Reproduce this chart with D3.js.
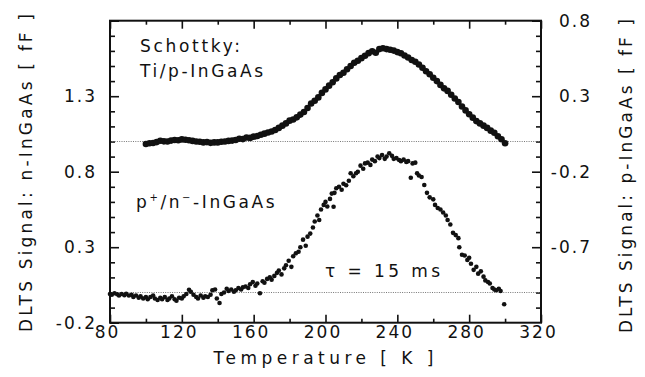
<!DOCTYPE html>
<html>
<head>
<meta charset="utf-8">
<script src="https://cdn.jsdelivr.net/npm/d3@7"></script>
<style>
  body { margin: 0; background: #fff; }
  text { font-family: "DejaVu Sans", sans-serif; fill: #111; }
</style>
</head>
<body>
<div id="wrapper"></div>
<script>
// Schottky Ti/p-InGaAs (right axis)
const schottkyT = [100,102,104,106,108,110,112,114,116,118,120,122,124,126,128,130,132,134,136,138,
  140,142,144,146,148,150,152,154,156,158,160,162,164,166,168,170,172,174,176,178,
  180,182,184,186,188,190,192,194,196,198,200,202,204,206,208,210,212,214,216,218,
  220,222,224,226,228,230,232,234,236,238,240,242,244,246,248,250,252,254,256,258,
  260,262,264,266,268,270,272,274,276,278,280,282,284,286,288,290,292,294,296,298,300];
const schottkyV = [-0.017,-0.012,-0.010,-0.004,0.005,0.001,0.000,0.006,0.010,0.008,0.014,0.012,0.008,0.004,0.000,-0.002,-0.006,-0.004,-0.009,-0.006,
  -0.006,-0.002,0.000,0.004,0.006,0.010,0.018,0.016,0.026,0.024,0.032,0.036,0.045,0.052,0.060,0.066,0.076,0.090,0.105,0.120,
  0.138,0.146,0.160,0.178,0.195,0.222,0.252,0.270,0.292,0.322,0.345,0.370,0.392,0.418,0.440,0.455,0.478,0.500,0.522,0.535,
  0.552,0.568,0.585,0.598,0.588,0.612,0.618,0.612,0.608,0.602,0.592,0.584,0.570,0.556,0.540,0.528,0.510,0.488,0.465,0.445,
  0.422,0.400,0.375,0.352,0.335,0.310,0.285,0.262,0.232,0.206,0.180,0.158,0.135,0.120,0.105,0.090,0.072,0.058,0.035,0.015,-0.012];

// p+/n- InGaAs (left axis)
const pnT = [80,81,82.5,84,85,86.5,88,89,90.5,92,93,94.5,96,97,98.5,100,101,102.5,104,105,
  106.5,108,109,110.5,112,113,114.5,116,117,118.5,120,121,122.5,124,125,126.5,128,129,130.5,132,
  133,134.5,136,137,138.5,139.5,141,142,143.5,145,146,147.5,149,150,151.5,153,154,155.5,157,158,
  159.5,161,162,163.5,165,166,167.5,169,170,171.5,173,174,175.5,177,178,179.5,181,182,183.5,185,
  186,187.5,189,190,191.5,193,194,195.5,196.5,197.5,199,200,201,202.5,203.5,204.5,205,206,207.5,209,
  210,211.5,213,214,215.5,217,218,219.5,221,222,223.5,225,226,227.5,229,230,231.5,233,234,235.5,
  237,238,239.5,241,242,243.5,245,246,247.5,248.5,250,251,252,253.5,255,256.5,258,260,261,262.5,
  264,265.5,267,268,269.5,271,272.5,274,274.5,276,277.5,279,280,281,282.5,284,285,286.5,288,289,
  290.5,291.5,293,294,295,296.5,297.5,299.5];
const pnV = [-0.010,-0.015,-0.005,-0.012,-0.020,-0.010,-0.018,-0.008,-0.020,-0.015,-0.030,-0.020,-0.035,-0.025,-0.040,-0.030,-0.045,-0.030,-0.020,-0.040,
  -0.050,-0.035,-0.045,-0.030,-0.050,-0.040,-0.025,-0.045,-0.055,-0.035,-0.040,-0.025,-0.010,0.018,0.005,-0.015,-0.030,-0.040,-0.020,-0.035,
  -0.025,-0.030,-0.015,0.015,0.020,-0.040,-0.070,-0.010,0.000,0.025,0.010,0.020,0.005,0.015,0.030,0.020,0.035,0.040,0.030,0.055,
  0.070,0.045,0.060,-0.005,0.075,0.065,0.090,0.100,0.085,0.110,0.130,0.145,0.120,0.160,0.180,0.210,0.170,0.240,0.260,0.270,
  0.300,0.350,0.310,0.370,0.390,0.430,0.470,0.510,0.480,0.550,0.580,0.600,0.570,0.620,0.655,0.568,0.660,0.690,0.700,0.680,
  0.720,0.710,0.740,0.790,0.770,0.790,0.800,0.840,0.820,0.855,0.860,0.845,0.880,0.870,0.900,0.890,0.910,0.885,0.900,0.922,
  0.905,0.885,0.890,0.877,0.870,0.880,0.865,0.870,0.760,0.855,0.860,0.790,0.775,0.765,0.712,0.660,0.630,0.617,0.580,0.560,
  0.550,0.530,0.510,0.480,0.450,0.395,0.380,0.360,0.300,0.250,0.245,0.215,0.230,0.190,0.150,0.170,0.125,0.140,0.105,0.080,
  0.070,0.060,0.030,0.020,0.015,0.025,0.010,-0.078];

const xMajor = [80,120,160,200,240,280,320];
const xMinor = [100,140,180,220,260,300];
const yLeftMajor = [-0.2,0.3,0.8,1.3,1.8];
const yRightMajor = [-1.2,-0.7,-0.2,0.3,0.8];

const width = 645, height = 377;
const mLeft = 110, mRight = 541, mTop = 20.7, mBottom = 322.7;

const x = d3.scaleLinear().domain([80, 320]).range([mLeft, mRight]);
const yL = d3.scaleLinear().domain([-0.2, 1.8]).range([mBottom, mTop]);
const yR = d3.scaleLinear().domain([-1.2, 0.8]).range([mBottom, mTop]);

const svg = d3.select("#wrapper").append("svg")
  .attr("width", width)
  .attr("height", height);

// minor ticks every 0.1
const minorL = d3.range(-0.2, 1.801, 0.1).map(d => +d.toFixed(1)).filter(d => !yLeftMajor.includes(d));
const minorR = d3.range(-1.2, 0.801, 0.1).map(d => +d.toFixed(1)).filter(d => !yRightMajor.includes(d));

const fmt = d => d.toFixed(1);  // plain hyphen minus like the original

const tickStyle = g => g.call(g => g.select(".domain").remove())
  .call(g => g.selectAll("line").attr("stroke", "#111").attr("stroke-width", 1.6));
const labelStyle = g => g.selectAll("text").style("font-size", "17px").style("letter-spacing", "2px")
  .style("font-family", "DejaVu Sans").attr("fill", "#111");

// bottom
svg.append("g").attr("transform", `translate(0,${mBottom})`)
  .call(d3.axisBottom(x).tickValues(xMajor).tickSize(-8).tickPadding(3).tickFormat(d3.format("d")))
  .call(tickStyle)
  .call(labelStyle)
  .call(g => g.selectAll("text").attr("dx", -3));
svg.append("g").attr("transform", `translate(0,${mBottom})`)
  .call(d3.axisBottom(x).tickValues(xMinor).tickSize(-4).tickFormat(""))
  .call(tickStyle);
// top
svg.append("g").attr("transform", `translate(0,${mTop})`)
  .call(d3.axisTop(x).tickValues(xMajor).tickSize(-8).tickFormat(""))
  .call(tickStyle);
svg.append("g").attr("transform", `translate(0,${mTop})`)
  .call(d3.axisTop(x).tickValues(xMinor).tickSize(-4).tickFormat(""))
  .call(tickStyle);
// left
svg.append("g").attr("transform", `translate(${mLeft},0)`)
  .call(d3.axisLeft(yL).tickValues(yLeftMajor.slice(0, 4)).tickSize(-9).tickPadding(13).tickFormat(fmt))
  .call(tickStyle)
  .call(labelStyle);
svg.append("g").attr("transform", `translate(${mLeft},0)`)
  .call(d3.axisLeft(yL).tickValues([1.8]).tickSize(-9).tickFormat(""))
  .call(tickStyle);
svg.append("g").attr("transform", `translate(${mLeft},0)`)
  .call(d3.axisLeft(yL).tickValues(minorL).tickSize(-5).tickFormat(""))
  .call(tickStyle);
// right (labels right-aligned near x = 592)
svg.append("g").attr("transform", `translate(${mRight},0)`)
  .call(d3.axisRight(yR).tickValues(yRightMajor.slice(1)).tickSize(-9).tickPadding(12).tickFormat(fmt))
  .call(tickStyle)
  .call(labelStyle)
  .call(g => g.selectAll("text").attr("text-anchor", "end").attr("x", 592 - mRight));
svg.append("g").attr("transform", `translate(${mRight},0)`)
  .call(d3.axisRight(yR).tickValues(minorR).tickSize(-5).tickFormat(""))
  .call(tickStyle);

// baselines
svg.append("g").selectAll("line")
  .data([yL(0), yR(0)])
  .join("line")
  .attr("x1", mLeft).attr("x2", mRight)
  .attr("y1", d => d).attr("y2", d => d)
  .attr("stroke", "#777")
  .attr("stroke-width", 1)
  .attr("stroke-dasharray", "1,1.3");

// frame
svg.append("rect")
  .attr("x", mLeft).attr("y", mTop)
  .attr("width", mRight - mLeft).attr("height", mBottom - mTop)
  .attr("fill", "none")
  .attr("stroke", "#111")
  .attr("stroke-width", 2);

// data
svg.append("g").selectAll("circle")
  .data(schottkyT.map((t, i) => [t, schottkyV[i]]))
  .join("circle")
  .attr("cx", d => x(d[0]))
  .attr("cy", d => yR(d[1]))
  .attr("r", 3.3)
  .attr("fill", "#111");

svg.append("g").selectAll("circle")
  .data(pnT.map((t, i) => [t, pnV[i]]))
  .join("circle")
  .attr("cx", d => x(d[0]))
  .attr("cy", d => yL(d[1]))
  .attr("r", 2.3)
  .attr("fill", "#111");

// annotations
const note = (tx, ty, len) => svg.append("text")
  .attr("x", tx).attr("y", ty)
  .attr("textLength", len).attr("lengthAdjust", "spacing")
  .style("font-size", "17px");

note(140, 52, 100).text("Schottky:");
note(140, 77, 123).text("Ti/p-InGaAs");
note(325, 277, 115).text("τ  =  15  ms");

const pn = svg.append("text").attr("x", 136).attr("y", 208).style("font-size", "17px").style("letter-spacing", "2.6px");
pn.append("tspan").text("p");
pn.append("tspan").attr("dy", -7).style("font-size", "10px").text("+");
pn.append("tspan").attr("dy", 7).text("/n");
pn.append("tspan").attr("dy", -7).style("font-size", "10px").text("−");
pn.append("tspan").attr("dy", 7).text("-InGaAs");

svg.append("text")
  .attr("x", (mLeft + mRight) / 2 - 2).attr("y", 364)
  .attr("text-anchor", "middle")
  .attr("textLength", 220).attr("lengthAdjust", "spacing")
  .style("font-size", "17px")
  .text("Temperature   [ K ]");

svg.append("text")
  .attr("transform", "translate(32,173) rotate(-90)")
  .attr("text-anchor", "middle")
  .attr("textLength", 318).attr("lengthAdjust", "spacing")
  .style("font-size", "17px")
  .text("DLTS Signal:  n-InGaAs   [ fF ]");

svg.append("text")
  .attr("transform", "translate(632,176) rotate(-90)")
  .attr("text-anchor", "middle")
  .attr("textLength", 314).attr("lengthAdjust", "spacing")
  .style("font-size", "17px")
  .text("DLTS Signal:  p-InGaAs   [ fF ]");
</script>
</body>
</html>
